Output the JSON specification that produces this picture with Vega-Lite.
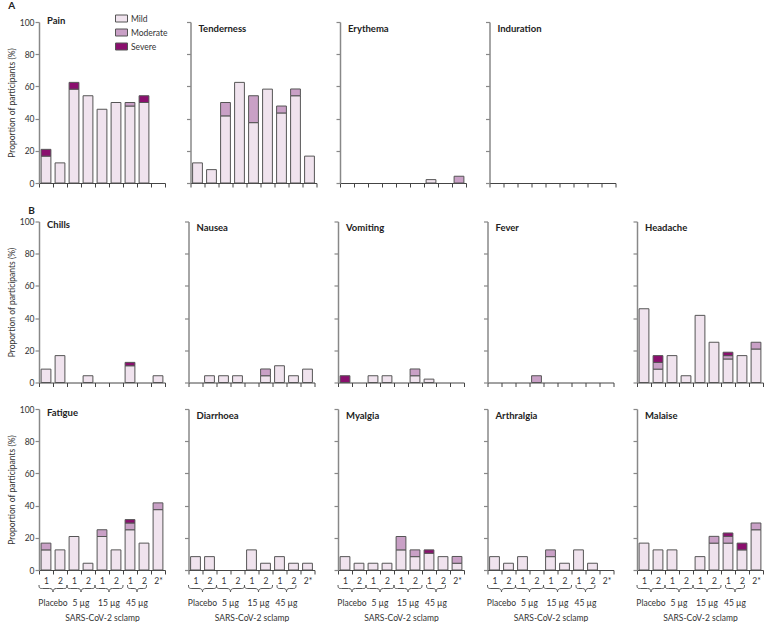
{
"$schema":"https://vega.github.io/schema/vega-lite/v6.json",
"padding":{"left":7,"top":1,"right":0,"bottom":0},
"config":{"font":"Lato","view":{"stroke":null},
 "axis":{"labelFontSize":8.5,"titleFontSize":8.5,"labelColor":"#333","titleColor":"#333","titleFontWeight":"normal","grid":false},
 "axisY":{"domainColor":"#888","domainWidth":1.5,"tickColor":"#888","tickWidth":1.2,"tickSize":4,"tickCount":5,"labelPadding":1,"titlePadding":3},
 "axisX":{"domainColor":"#444","domainWidth":1,"tickColor":"#444","tickSize":4,"tickBand":"extent","labelAngle":0,"labelPadding":2},
 "bar":{"stroke":"#555","strokeWidth":1},
 "title":{"anchor":"start","fontSize":9.5,"fontWeight":"bold","offset":-12,"dx":8,"color":"#222","frame":"group"},
 "concat":{"spacing":17.5}
},
"data":{"values":[
{"s":"Pain","g":"Placebo 1","l":"Mild","v":16.7},{"s":"Pain","g":"Placebo 1","l":"Severe","v":4.2},{"s":"Pain","g":"Placebo 2","l":"Mild","v":12.5},{"s":"Pain","g":"5 µg 1","l":"Mild","v":58.3},{"s":"Pain","g":"5 µg 1","l":"Severe","v":4.2},{"s":"Pain","g":"5 µg 2","l":"Mild","v":54.2},{"s":"Pain","g":"15 µg 1","l":"Mild","v":45.8},{"s":"Pain","g":"15 µg 2","l":"Mild","v":50},{"s":"Pain","g":"45 µg 1","l":"Mild","v":47.8},{"s":"Pain","g":"45 µg 1","l":"Moderate","v":2.2},{"s":"Pain","g":"45 µg 2","l":"Mild","v":50},{"s":"Pain","g":"45 µg 2","l":"Severe","v":4.2},
{"s":"Tenderness","g":"Placebo 1","l":"Mild","v":12.5},{"s":"Tenderness","g":"Placebo 2","l":"Mild","v":8.3},{"s":"Tenderness","g":"5 µg 1","l":"Mild","v":41.7},{"s":"Tenderness","g":"5 µg 1","l":"Moderate","v":8.3},{"s":"Tenderness","g":"5 µg 2","l":"Mild","v":62.5},{"s":"Tenderness","g":"15 µg 1","l":"Mild","v":37.5},{"s":"Tenderness","g":"15 µg 1","l":"Moderate","v":16.7},{"s":"Tenderness","g":"15 µg 2","l":"Mild","v":58.3},{"s":"Tenderness","g":"45 µg 1","l":"Mild","v":43.5},{"s":"Tenderness","g":"45 µg 1","l":"Moderate","v":4.3},{"s":"Tenderness","g":"45 µg 2","l":"Mild","v":54.2},{"s":"Tenderness","g":"45 µg 2","l":"Moderate","v":4.2},{"s":"Tenderness","g":"45 µg 2*","l":"Mild","v":16.7},
{"s":"Erythema","g":"45 µg 1","l":"Mild","v":2.1},{"s":"Erythema","g":"45 µg 2*","l":"Moderate","v":4.2},
{"s":"Chills","g":"Placebo 1","l":"Mild","v":8.3},{"s":"Chills","g":"Placebo 2","l":"Mild","v":16.7},{"s":"Chills","g":"5 µg 2","l":"Mild","v":4.2},{"s":"Chills","g":"45 µg 1","l":"Mild","v":10.4},{"s":"Chills","g":"45 µg 1","l":"Severe","v":2.1},{"s":"Chills","g":"45 µg 2*","l":"Mild","v":4.2},
{"s":"Nausea","g":"Placebo 2","l":"Mild","v":4.2},{"s":"Nausea","g":"5 µg 1","l":"Mild","v":4.2},{"s":"Nausea","g":"5 µg 2","l":"Mild","v":4.2},{"s":"Nausea","g":"15 µg 2","l":"Mild","v":4.2},{"s":"Nausea","g":"15 µg 2","l":"Moderate","v":4.2},{"s":"Nausea","g":"45 µg 1","l":"Mild","v":10.4},{"s":"Nausea","g":"45 µg 2","l":"Mild","v":4.2},{"s":"Nausea","g":"45 µg 2*","l":"Mild","v":8.3},
{"s":"Vomiting","g":"Placebo 1","l":"Severe","v":4.2},{"s":"Vomiting","g":"5 µg 1","l":"Mild","v":4.2},{"s":"Vomiting","g":"5 µg 2","l":"Mild","v":4.2},{"s":"Vomiting","g":"15 µg 2","l":"Mild","v":4.2},{"s":"Vomiting","g":"15 µg 2","l":"Moderate","v":4.2},{"s":"Vomiting","g":"45 µg 1","l":"Mild","v":2.1},
{"s":"Fever","g":"5 µg 2","l":"Moderate","v":4.2},
{"s":"Headache","g":"Placebo 1","l":"Mild","v":45.8},{"s":"Headache","g":"Placebo 2","l":"Mild","v":8.3},{"s":"Headache","g":"Placebo 2","l":"Moderate","v":4.2},{"s":"Headache","g":"Placebo 2","l":"Severe","v":4.2},{"s":"Headache","g":"5 µg 1","l":"Mild","v":16.7},{"s":"Headache","g":"5 µg 2","l":"Mild","v":4.2},{"s":"Headache","g":"15 µg 1","l":"Mild","v":41.7},{"s":"Headache","g":"15 µg 2","l":"Mild","v":25},{"s":"Headache","g":"45 µg 1","l":"Mild","v":14.6},{"s":"Headache","g":"45 µg 1","l":"Moderate","v":2.1},{"s":"Headache","g":"45 µg 1","l":"Severe","v":2.1},{"s":"Headache","g":"45 µg 2","l":"Mild","v":16.7},{"s":"Headache","g":"45 µg 2*","l":"Mild","v":20.8},{"s":"Headache","g":"45 µg 2*","l":"Moderate","v":4.2},
{"s":"Fatigue","g":"Placebo 1","l":"Mild","v":12.5},{"s":"Fatigue","g":"Placebo 1","l":"Moderate","v":4.2},{"s":"Fatigue","g":"Placebo 2","l":"Mild","v":12.5},{"s":"Fatigue","g":"5 µg 1","l":"Mild","v":20.8},{"s":"Fatigue","g":"5 µg 2","l":"Mild","v":4.2},{"s":"Fatigue","g":"15 µg 1","l":"Mild","v":20.8},{"s":"Fatigue","g":"15 µg 1","l":"Moderate","v":4.2},{"s":"Fatigue","g":"15 µg 2","l":"Mild","v":12.5},{"s":"Fatigue","g":"45 µg 1","l":"Mild","v":25},{"s":"Fatigue","g":"45 µg 1","l":"Moderate","v":4.2},{"s":"Fatigue","g":"45 µg 1","l":"Severe","v":2.1},{"s":"Fatigue","g":"45 µg 2","l":"Mild","v":16.7},{"s":"Fatigue","g":"45 µg 2*","l":"Mild","v":37.5},{"s":"Fatigue","g":"45 µg 2*","l":"Moderate","v":4.2},
{"s":"Diarrhoea","g":"Placebo 1","l":"Mild","v":8.3},{"s":"Diarrhoea","g":"Placebo 2","l":"Mild","v":8.3},{"s":"Diarrhoea","g":"15 µg 1","l":"Mild","v":12.5},{"s":"Diarrhoea","g":"15 µg 2","l":"Mild","v":4.2},{"s":"Diarrhoea","g":"45 µg 1","l":"Mild","v":8.3},{"s":"Diarrhoea","g":"45 µg 2","l":"Mild","v":4.2},{"s":"Diarrhoea","g":"45 µg 2*","l":"Mild","v":4.2},
{"s":"Myalgia","g":"Placebo 1","l":"Mild","v":8.3},{"s":"Myalgia","g":"Placebo 2","l":"Mild","v":4.2},{"s":"Myalgia","g":"5 µg 1","l":"Mild","v":4.2},{"s":"Myalgia","g":"5 µg 2","l":"Mild","v":4.2},{"s":"Myalgia","g":"15 µg 1","l":"Mild","v":12.5},{"s":"Myalgia","g":"15 µg 1","l":"Moderate","v":8.3},{"s":"Myalgia","g":"15 µg 2","l":"Mild","v":8.3},{"s":"Myalgia","g":"15 µg 2","l":"Moderate","v":4.2},{"s":"Myalgia","g":"45 µg 1","l":"Mild","v":10.4},{"s":"Myalgia","g":"45 µg 1","l":"Severe","v":2.1},{"s":"Myalgia","g":"45 µg 2","l":"Mild","v":8.3},{"s":"Myalgia","g":"45 µg 2*","l":"Mild","v":4.2},{"s":"Myalgia","g":"45 µg 2*","l":"Moderate","v":4.2},
{"s":"Arthralgia","g":"Placebo 1","l":"Mild","v":8.3},{"s":"Arthralgia","g":"Placebo 2","l":"Mild","v":4.2},{"s":"Arthralgia","g":"5 µg 1","l":"Mild","v":8.3},{"s":"Arthralgia","g":"15 µg 1","l":"Mild","v":8.3},{"s":"Arthralgia","g":"15 µg 1","l":"Moderate","v":4.2},{"s":"Arthralgia","g":"15 µg 2","l":"Mild","v":4.2},{"s":"Arthralgia","g":"45 µg 1","l":"Mild","v":12.5},{"s":"Arthralgia","g":"45 µg 2","l":"Mild","v":4.2},
{"s":"Malaise","g":"Placebo 1","l":"Mild","v":16.7},{"s":"Malaise","g":"Placebo 2","l":"Mild","v":12.5},{"s":"Malaise","g":"5 µg 1","l":"Mild","v":12.5},{"s":"Malaise","g":"15 µg 1","l":"Mild","v":8.3},{"s":"Malaise","g":"15 µg 2","l":"Mild","v":16.7},{"s":"Malaise","g":"15 µg 2","l":"Moderate","v":4.2},{"s":"Malaise","g":"45 µg 1","l":"Mild","v":16.7},{"s":"Malaise","g":"45 µg 1","l":"Moderate","v":4.2},{"s":"Malaise","g":"45 µg 1","l":"Severe","v":2.1},{"s":"Malaise","g":"45 µg 2","l":"Mild","v":12.5},{"s":"Malaise","g":"45 µg 2","l":"Severe","v":4.2},{"s":"Malaise","g":"45 µg 2*","l":"Mild","v":25},{"s":"Malaise","g":"45 µg 2*","l":"Moderate","v":4.2}
]},
"resolve":{"legend":{"color":"independent"}},
"vconcat":[
{"title":{"text":"A","fontSize":10,"fontWeight":"bold","frame":"bounds","offset":2,"dx":1},
 "resolve":{"legend":{"color":"independent"}},
 "hconcat":[
 {"width":126,"height":161,"title":{"text":"Pain"},"transform":[{"filter":"datum.s==='Pain'"}],"mark":{"type":"bar","width":{"band":0.7}},
  "encoding":{"x":{"field":"g","type":"nominal","scale":{"domain":["Placebo 1","Placebo 2","5 µg 1","5 µg 2","15 µg 1","15 µg 2","45 µg 1","45 µg 2","45 µg 2*"],"paddingInner":0,"paddingOuter":0},"axis":{"labels":false,"title":null}},
  "y":{"field":"v","type":"quantitative","scale":{"domain":[0,100]},"axis":{"title":"Proportion of participants (%)"}},
  "order":{"field":"l","sort":"ascending"},
  "color":{"field":"l","type":"nominal","scale":{"domain":["Mild","Moderate","Severe"],"range":["#f0e3ee","#c9a0c6","#8a0f6e"]},
   "legend":{"orient":"none","legendX":77,"legendY":-9,"title":null,"padding":0,"symbolType":"M-1.2,-0.7H1.2V0.7H-1.2Z","symbolSize":100,"symbolStrokeColor":"#555","symbolStrokeWidth":1,"labelFontSize":8.5,"labelColor":"#333","rowPadding":3,"labelOffset":4}}}},
 {"width":126,"height":161,"title":{"text":"Tenderness"},"transform":[{"filter":"datum.s==='Tenderness'"}],"mark":{"type":"bar","width":{"band":0.7}},
  "encoding":{"x":{"field":"g","type":"nominal","scale":{"domain":["Placebo 1","Placebo 2","5 µg 1","5 µg 2","15 µg 1","15 µg 2","45 µg 1","45 µg 2","45 µg 2*"],"paddingInner":0,"paddingOuter":0},"axis":{"labels":false,"title":null}},
  "y":{"field":"v","type":"quantitative","scale":{"domain":[0,100]},"axis":{"labels":false,"title":null}},
  "order":{"field":"l","sort":"ascending"},
  "color":{"field":"l","type":"nominal","scale":{"domain":["Mild","Moderate","Severe"],"range":["#f0e3ee","#c9a0c6","#8a0f6e"]},"legend":null}}},
 {"width":126,"height":161,"title":{"text":"Erythema"},"transform":[{"filter":"datum.s==='Erythema'"}],"mark":{"type":"bar","width":{"band":0.7}},
  "encoding":{"x":{"field":"g","type":"nominal","scale":{"domain":["Placebo 1","Placebo 2","5 µg 1","5 µg 2","15 µg 1","15 µg 2","45 µg 1","45 µg 2","45 µg 2*"],"paddingInner":0,"paddingOuter":0},"axis":{"labels":false,"title":null}},
  "y":{"field":"v","type":"quantitative","scale":{"domain":[0,100]},"axis":{"labels":false,"title":null}},
  "order":{"field":"l","sort":"ascending"},
  "color":{"field":"l","type":"nominal","scale":{"domain":["Mild","Moderate","Severe"],"range":["#f0e3ee","#c9a0c6","#8a0f6e"]},"legend":null}}},
 {"width":126,"height":161,"title":{"text":"Induration"},"transform":[{"filter":"datum.s==='Induration'"}],"mark":{"type":"bar","width":{"band":0.7}},
  "encoding":{"x":{"field":"g","type":"nominal","scale":{"domain":["Placebo 1","Placebo 2","5 µg 1","5 µg 2","15 µg 1","15 µg 2","45 µg 1","45 µg 2","45 µg 2*"],"paddingInner":0,"paddingOuter":0},"axis":{"labels":false,"title":null}},
  "y":{"field":"v","type":"quantitative","scale":{"domain":[0,100]},"axis":{"labels":false,"title":null}},
  "order":{"field":"l","sort":"ascending"},
  "color":{"field":"l","type":"nominal","scale":{"domain":["Mild","Moderate","Severe"],"range":["#f0e3ee","#c9a0c6","#8a0f6e"]},"legend":null}}}
 ]},
{"title":{"text":"B","fontSize":10,"fontWeight":"bold","frame":"bounds","offset":2,"dx":21},
 "resolve":{"legend":{"color":"independent"}},
 "hconcat":[
 {"width":126,"height":161,"title":{"text":"Chills"},"transform":[{"filter":"datum.s==='Chills'"}],"mark":{"type":"bar","width":{"band":0.7}},
  "encoding":{"x":{"field":"g","type":"nominal","scale":{"domain":["Placebo 1","Placebo 2","5 µg 1","5 µg 2","15 µg 1","15 µg 2","45 µg 1","45 µg 2","45 µg 2*"],"paddingInner":0,"paddingOuter":0},"axis":{"labels":false,"title":null}},
  "y":{"field":"v","type":"quantitative","scale":{"domain":[0,100]},"axis":{"title":"Proportion of participants (%)"}},
  "order":{"field":"l","sort":"ascending"},
  "color":{"field":"l","type":"nominal","scale":{"domain":["Mild","Moderate","Severe"],"range":["#f0e3ee","#c9a0c6","#8a0f6e"]},"legend":null}}},
 {"width":126,"height":161,"title":{"text":"Nausea"},"transform":[{"filter":"datum.s==='Nausea'"}],"mark":{"type":"bar","width":{"band":0.7}},
  "encoding":{"x":{"field":"g","type":"nominal","scale":{"domain":["Placebo 1","Placebo 2","5 µg 1","5 µg 2","15 µg 1","15 µg 2","45 µg 1","45 µg 2","45 µg 2*"],"paddingInner":0,"paddingOuter":0},"axis":{"labels":false,"title":null}},
  "y":{"field":"v","type":"quantitative","scale":{"domain":[0,100]},"axis":{"labels":false,"title":null}},
  "order":{"field":"l","sort":"ascending"},
  "color":{"field":"l","type":"nominal","scale":{"domain":["Mild","Moderate","Severe"],"range":["#f0e3ee","#c9a0c6","#8a0f6e"]},"legend":null}}},
 {"width":126,"height":161,"title":{"text":"Vomiting"},"transform":[{"filter":"datum.s==='Vomiting'"}],"mark":{"type":"bar","width":{"band":0.7}},
  "encoding":{"x":{"field":"g","type":"nominal","scale":{"domain":["Placebo 1","Placebo 2","5 µg 1","5 µg 2","15 µg 1","15 µg 2","45 µg 1","45 µg 2","45 µg 2*"],"paddingInner":0,"paddingOuter":0},"axis":{"labels":false,"title":null}},
  "y":{"field":"v","type":"quantitative","scale":{"domain":[0,100]},"axis":{"labels":false,"title":null}},
  "order":{"field":"l","sort":"ascending"},
  "color":{"field":"l","type":"nominal","scale":{"domain":["Mild","Moderate","Severe"],"range":["#f0e3ee","#c9a0c6","#8a0f6e"]},"legend":null}}},
 {"width":126,"height":161,"title":{"text":"Fever"},"transform":[{"filter":"datum.s==='Fever'"}],"mark":{"type":"bar","width":{"band":0.7}},
  "encoding":{"x":{"field":"g","type":"nominal","scale":{"domain":["Placebo 1","Placebo 2","5 µg 1","5 µg 2","15 µg 1","15 µg 2","45 µg 1","45 µg 2","45 µg 2*"],"paddingInner":0,"paddingOuter":0},"axis":{"labels":false,"title":null}},
  "y":{"field":"v","type":"quantitative","scale":{"domain":[0,100]},"axis":{"labels":false,"title":null}},
  "order":{"field":"l","sort":"ascending"},
  "color":{"field":"l","type":"nominal","scale":{"domain":["Mild","Moderate","Severe"],"range":["#f0e3ee","#c9a0c6","#8a0f6e"]},"legend":null}}},
 {"width":126,"height":161,"title":{"text":"Headache"},"transform":[{"filter":"datum.s==='Headache'"}],"mark":{"type":"bar","width":{"band":0.7}},
  "encoding":{"x":{"field":"g","type":"nominal","scale":{"domain":["Placebo 1","Placebo 2","5 µg 1","5 µg 2","15 µg 1","15 µg 2","45 µg 1","45 µg 2","45 µg 2*"],"paddingInner":0,"paddingOuter":0},"axis":{"labels":false,"title":null}},
  "y":{"field":"v","type":"quantitative","scale":{"domain":[0,100]},"axis":{"labels":false,"title":null}},
  "order":{"field":"l","sort":"ascending"},
  "color":{"field":"l","type":"nominal","scale":{"domain":["Mild","Moderate","Severe"],"range":["#f0e3ee","#c9a0c6","#8a0f6e"]},"legend":null}}}
 ]},
{"resolve":{"legend":{"color":"independent"}},
 "hconcat":[
 {"width":126,"height":161,"title":{"text":"Fatigue"},"layer":[
  {"transform":[{"filter":"datum.s==='Fatigue'"}],"mark":{"type":"bar","width":{"band":0.7}},
   "encoding":{"x":{"field":"g","type":"nominal","scale":{"domain":["Placebo 1","Placebo 2","5 µg 1","5 µg 2","15 µg 1","15 µg 2","45 µg 1","45 µg 2","45 µg 2*"],"paddingInner":0,"paddingOuter":0},"axis":{"labelExpr":"peek(split(datum.label,' '))","title":"SARS-CoV-2 sclamp","titlePadding":29}},
   "y":{"field":"v","type":"quantitative","scale":{"domain":[0,100]},"axis":{"title":"Proportion of participants (%)"}},
   "order":{"field":"l","sort":"ascending"},
   "color":{"field":"l","type":"nominal","scale":{"domain":["Mild","Moderate","Severe"],"range":["#f0e3ee","#c9a0c6","#8a0f6e"]},"legend":null}}},
  {"data":{"values":[{}]},"mark":{"type":"point","shape":"M-1,-0.25C-1,0 -0.92,0 -0.75,0L-0.25,0C-0.08,0 0,0.08 0,0.25C0,0.08 0.08,0 0.25,0L0.75,0C0.92,0 1,0 1,-0.25","filled":false,"stroke":"#555","strokeWidth":1,"opacity":1,"size":784},"encoding":{"x":{"datum":"Placebo 2","bandPosition":0},"y":{"datum":-11.5}}},
  {"data":{"values":[{}]},"mark":{"type":"point","shape":"M-1,-0.25C-1,0 -0.92,0 -0.75,0L-0.25,0C-0.08,0 0,0.08 0,0.25C0,0.08 0.08,0 0.25,0L0.75,0C0.92,0 1,0 1,-0.25","filled":false,"stroke":"#555","strokeWidth":1,"opacity":1,"size":784},"encoding":{"x":{"datum":"5 µg 2","bandPosition":0},"y":{"datum":-11.5}}},
  {"data":{"values":[{}]},"mark":{"type":"point","shape":"M-1,-0.25C-1,0 -0.92,0 -0.75,0L-0.25,0C-0.08,0 0,0.08 0,0.25C0,0.08 0.08,0 0.25,0L0.75,0C0.92,0 1,0 1,-0.25","filled":false,"stroke":"#555","strokeWidth":1,"opacity":1,"size":784},"encoding":{"x":{"datum":"15 µg 2","bandPosition":0},"y":{"datum":-11.5}}},
  {"data":{"values":[{}]},"mark":{"type":"point","shape":"M-1,-0.36C-1,0 -0.9,0 -0.7,0L-0.3,0C-0.1,0 0,0.12 0,0.36C0,0.12 0.1,0 0.3,0L0.7,0C0.9,0 1,0 1,-0.36","filled":false,"stroke":"#555","strokeWidth":1,"opacity":1,"size":361},"encoding":{"x":{"datum":"45 µg 2","bandPosition":0},"y":{"datum":-11.5}}},
  {"data":{"values":[{}]},"mark":{"type":"text","text":"Placebo","dy":33,"fontSize":8.5,"color":"#333"},"encoding":{"x":{"datum":"Placebo 2","bandPosition":0},"y":{"datum":0}}},
  {"data":{"values":[{}]},"mark":{"type":"text","text":"5 µg","dy":33,"fontSize":8.5,"color":"#333"},"encoding":{"x":{"datum":"5 µg 2","bandPosition":0},"y":{"datum":0}}},
  {"data":{"values":[{}]},"mark":{"type":"text","text":"15 µg","dy":33,"fontSize":8.5,"color":"#333"},"encoding":{"x":{"datum":"15 µg 2","bandPosition":0},"y":{"datum":0}}},
  {"data":{"values":[{}]},"mark":{"type":"text","text":"45 µg","dy":33,"fontSize":8.5,"color":"#333"},"encoding":{"x":{"datum":"45 µg 2","bandPosition":0},"y":{"datum":0}}}
 ]},
 {"width":126,"height":161,"title":{"text":"Diarrhoea"},"layer":[
  {"transform":[{"filter":"datum.s==='Diarrhoea'"}],"mark":{"type":"bar","width":{"band":0.7}},
   "encoding":{"x":{"field":"g","type":"nominal","scale":{"domain":["Placebo 1","Placebo 2","5 µg 1","5 µg 2","15 µg 1","15 µg 2","45 µg 1","45 µg 2","45 µg 2*"],"paddingInner":0,"paddingOuter":0},"axis":{"labelExpr":"peek(split(datum.label,' '))","title":"SARS-CoV-2 sclamp","titlePadding":29}},
   "y":{"field":"v","type":"quantitative","scale":{"domain":[0,100]},"axis":{"labels":false,"title":null}},
   "order":{"field":"l","sort":"ascending"},
   "color":{"field":"l","type":"nominal","scale":{"domain":["Mild","Moderate","Severe"],"range":["#f0e3ee","#c9a0c6","#8a0f6e"]},"legend":null}}},
  {"data":{"values":[{}]},"mark":{"type":"point","shape":"M-1,-0.25C-1,0 -0.92,0 -0.75,0L-0.25,0C-0.08,0 0,0.08 0,0.25C0,0.08 0.08,0 0.25,0L0.75,0C0.92,0 1,0 1,-0.25","filled":false,"stroke":"#555","strokeWidth":1,"opacity":1,"size":784},"encoding":{"x":{"datum":"Placebo 2","bandPosition":0},"y":{"datum":-11.5}}},
  {"data":{"values":[{}]},"mark":{"type":"point","shape":"M-1,-0.25C-1,0 -0.92,0 -0.75,0L-0.25,0C-0.08,0 0,0.08 0,0.25C0,0.08 0.08,0 0.25,0L0.75,0C0.92,0 1,0 1,-0.25","filled":false,"stroke":"#555","strokeWidth":1,"opacity":1,"size":784},"encoding":{"x":{"datum":"5 µg 2","bandPosition":0},"y":{"datum":-11.5}}},
  {"data":{"values":[{}]},"mark":{"type":"point","shape":"M-1,-0.25C-1,0 -0.92,0 -0.75,0L-0.25,0C-0.08,0 0,0.08 0,0.25C0,0.08 0.08,0 0.25,0L0.75,0C0.92,0 1,0 1,-0.25","filled":false,"stroke":"#555","strokeWidth":1,"opacity":1,"size":784},"encoding":{"x":{"datum":"15 µg 2","bandPosition":0},"y":{"datum":-11.5}}},
  {"data":{"values":[{}]},"mark":{"type":"point","shape":"M-1,-0.36C-1,0 -0.9,0 -0.7,0L-0.3,0C-0.1,0 0,0.12 0,0.36C0,0.12 0.1,0 0.3,0L0.7,0C0.9,0 1,0 1,-0.36","filled":false,"stroke":"#555","strokeWidth":1,"opacity":1,"size":361},"encoding":{"x":{"datum":"45 µg 2","bandPosition":0},"y":{"datum":-11.5}}},
  {"data":{"values":[{}]},"mark":{"type":"text","text":"Placebo","dy":33,"fontSize":8.5,"color":"#333"},"encoding":{"x":{"datum":"Placebo 2","bandPosition":0},"y":{"datum":0}}},
  {"data":{"values":[{}]},"mark":{"type":"text","text":"5 µg","dy":33,"fontSize":8.5,"color":"#333"},"encoding":{"x":{"datum":"5 µg 2","bandPosition":0},"y":{"datum":0}}},
  {"data":{"values":[{}]},"mark":{"type":"text","text":"15 µg","dy":33,"fontSize":8.5,"color":"#333"},"encoding":{"x":{"datum":"15 µg 2","bandPosition":0},"y":{"datum":0}}},
  {"data":{"values":[{}]},"mark":{"type":"text","text":"45 µg","dy":33,"fontSize":8.5,"color":"#333"},"encoding":{"x":{"datum":"45 µg 2","bandPosition":0},"y":{"datum":0}}}
 ]},
 {"width":126,"height":161,"title":{"text":"Myalgia"},"layer":[
  {"transform":[{"filter":"datum.s==='Myalgia'"}],"mark":{"type":"bar","width":{"band":0.7}},
   "encoding":{"x":{"field":"g","type":"nominal","scale":{"domain":["Placebo 1","Placebo 2","5 µg 1","5 µg 2","15 µg 1","15 µg 2","45 µg 1","45 µg 2","45 µg 2*"],"paddingInner":0,"paddingOuter":0},"axis":{"labelExpr":"peek(split(datum.label,' '))","title":"SARS-CoV-2 sclamp","titlePadding":29}},
   "y":{"field":"v","type":"quantitative","scale":{"domain":[0,100]},"axis":{"labels":false,"title":null}},
   "order":{"field":"l","sort":"ascending"},
   "color":{"field":"l","type":"nominal","scale":{"domain":["Mild","Moderate","Severe"],"range":["#f0e3ee","#c9a0c6","#8a0f6e"]},"legend":null}}},
  {"data":{"values":[{}]},"mark":{"type":"point","shape":"M-1,-0.25C-1,0 -0.92,0 -0.75,0L-0.25,0C-0.08,0 0,0.08 0,0.25C0,0.08 0.08,0 0.25,0L0.75,0C0.92,0 1,0 1,-0.25","filled":false,"stroke":"#555","strokeWidth":1,"opacity":1,"size":784},"encoding":{"x":{"datum":"Placebo 2","bandPosition":0},"y":{"datum":-11.5}}},
  {"data":{"values":[{}]},"mark":{"type":"point","shape":"M-1,-0.25C-1,0 -0.92,0 -0.75,0L-0.25,0C-0.08,0 0,0.08 0,0.25C0,0.08 0.08,0 0.25,0L0.75,0C0.92,0 1,0 1,-0.25","filled":false,"stroke":"#555","strokeWidth":1,"opacity":1,"size":784},"encoding":{"x":{"datum":"5 µg 2","bandPosition":0},"y":{"datum":-11.5}}},
  {"data":{"values":[{}]},"mark":{"type":"point","shape":"M-1,-0.25C-1,0 -0.92,0 -0.75,0L-0.25,0C-0.08,0 0,0.08 0,0.25C0,0.08 0.08,0 0.25,0L0.75,0C0.92,0 1,0 1,-0.25","filled":false,"stroke":"#555","strokeWidth":1,"opacity":1,"size":784},"encoding":{"x":{"datum":"15 µg 2","bandPosition":0},"y":{"datum":-11.5}}},
  {"data":{"values":[{}]},"mark":{"type":"point","shape":"M-1,-0.36C-1,0 -0.9,0 -0.7,0L-0.3,0C-0.1,0 0,0.12 0,0.36C0,0.12 0.1,0 0.3,0L0.7,0C0.9,0 1,0 1,-0.36","filled":false,"stroke":"#555","strokeWidth":1,"opacity":1,"size":361},"encoding":{"x":{"datum":"45 µg 2","bandPosition":0},"y":{"datum":-11.5}}},
  {"data":{"values":[{}]},"mark":{"type":"text","text":"Placebo","dy":33,"fontSize":8.5,"color":"#333"},"encoding":{"x":{"datum":"Placebo 2","bandPosition":0},"y":{"datum":0}}},
  {"data":{"values":[{}]},"mark":{"type":"text","text":"5 µg","dy":33,"fontSize":8.5,"color":"#333"},"encoding":{"x":{"datum":"5 µg 2","bandPosition":0},"y":{"datum":0}}},
  {"data":{"values":[{}]},"mark":{"type":"text","text":"15 µg","dy":33,"fontSize":8.5,"color":"#333"},"encoding":{"x":{"datum":"15 µg 2","bandPosition":0},"y":{"datum":0}}},
  {"data":{"values":[{}]},"mark":{"type":"text","text":"45 µg","dy":33,"fontSize":8.5,"color":"#333"},"encoding":{"x":{"datum":"45 µg 2","bandPosition":0},"y":{"datum":0}}}
 ]},
 {"width":126,"height":161,"title":{"text":"Arthralgia"},"layer":[
  {"transform":[{"filter":"datum.s==='Arthralgia'"}],"mark":{"type":"bar","width":{"band":0.7}},
   "encoding":{"x":{"field":"g","type":"nominal","scale":{"domain":["Placebo 1","Placebo 2","5 µg 1","5 µg 2","15 µg 1","15 µg 2","45 µg 1","45 µg 2","45 µg 2*"],"paddingInner":0,"paddingOuter":0},"axis":{"labelExpr":"peek(split(datum.label,' '))","title":"SARS-CoV-2 sclamp","titlePadding":29}},
   "y":{"field":"v","type":"quantitative","scale":{"domain":[0,100]},"axis":{"labels":false,"title":null}},
   "order":{"field":"l","sort":"ascending"},
   "color":{"field":"l","type":"nominal","scale":{"domain":["Mild","Moderate","Severe"],"range":["#f0e3ee","#c9a0c6","#8a0f6e"]},"legend":null}}},
  {"data":{"values":[{}]},"mark":{"type":"point","shape":"M-1,-0.25C-1,0 -0.92,0 -0.75,0L-0.25,0C-0.08,0 0,0.08 0,0.25C0,0.08 0.08,0 0.25,0L0.75,0C0.92,0 1,0 1,-0.25","filled":false,"stroke":"#555","strokeWidth":1,"opacity":1,"size":784},"encoding":{"x":{"datum":"Placebo 2","bandPosition":0},"y":{"datum":-11.5}}},
  {"data":{"values":[{}]},"mark":{"type":"point","shape":"M-1,-0.25C-1,0 -0.92,0 -0.75,0L-0.25,0C-0.08,0 0,0.08 0,0.25C0,0.08 0.08,0 0.25,0L0.75,0C0.92,0 1,0 1,-0.25","filled":false,"stroke":"#555","strokeWidth":1,"opacity":1,"size":784},"encoding":{"x":{"datum":"5 µg 2","bandPosition":0},"y":{"datum":-11.5}}},
  {"data":{"values":[{}]},"mark":{"type":"point","shape":"M-1,-0.25C-1,0 -0.92,0 -0.75,0L-0.25,0C-0.08,0 0,0.08 0,0.25C0,0.08 0.08,0 0.25,0L0.75,0C0.92,0 1,0 1,-0.25","filled":false,"stroke":"#555","strokeWidth":1,"opacity":1,"size":784},"encoding":{"x":{"datum":"15 µg 2","bandPosition":0},"y":{"datum":-11.5}}},
  {"data":{"values":[{}]},"mark":{"type":"point","shape":"M-1,-0.36C-1,0 -0.9,0 -0.7,0L-0.3,0C-0.1,0 0,0.12 0,0.36C0,0.12 0.1,0 0.3,0L0.7,0C0.9,0 1,0 1,-0.36","filled":false,"stroke":"#555","strokeWidth":1,"opacity":1,"size":361},"encoding":{"x":{"datum":"45 µg 2","bandPosition":0},"y":{"datum":-11.5}}},
  {"data":{"values":[{}]},"mark":{"type":"text","text":"Placebo","dy":33,"fontSize":8.5,"color":"#333"},"encoding":{"x":{"datum":"Placebo 2","bandPosition":0},"y":{"datum":0}}},
  {"data":{"values":[{}]},"mark":{"type":"text","text":"5 µg","dy":33,"fontSize":8.5,"color":"#333"},"encoding":{"x":{"datum":"5 µg 2","bandPosition":0},"y":{"datum":0}}},
  {"data":{"values":[{}]},"mark":{"type":"text","text":"15 µg","dy":33,"fontSize":8.5,"color":"#333"},"encoding":{"x":{"datum":"15 µg 2","bandPosition":0},"y":{"datum":0}}},
  {"data":{"values":[{}]},"mark":{"type":"text","text":"45 µg","dy":33,"fontSize":8.5,"color":"#333"},"encoding":{"x":{"datum":"45 µg 2","bandPosition":0},"y":{"datum":0}}}
 ]},
 {"width":126,"height":161,"title":{"text":"Malaise"},"layer":[
  {"transform":[{"filter":"datum.s==='Malaise'"}],"mark":{"type":"bar","width":{"band":0.7}},
   "encoding":{"x":{"field":"g","type":"nominal","scale":{"domain":["Placebo 1","Placebo 2","5 µg 1","5 µg 2","15 µg 1","15 µg 2","45 µg 1","45 µg 2","45 µg 2*"],"paddingInner":0,"paddingOuter":0},"axis":{"labelExpr":"peek(split(datum.label,' '))","title":"SARS-CoV-2 sclamp","titlePadding":29}},
   "y":{"field":"v","type":"quantitative","scale":{"domain":[0,100]},"axis":{"labels":false,"title":null}},
   "order":{"field":"l","sort":"ascending"},
   "color":{"field":"l","type":"nominal","scale":{"domain":["Mild","Moderate","Severe"],"range":["#f0e3ee","#c9a0c6","#8a0f6e"]},"legend":null}}},
  {"data":{"values":[{}]},"mark":{"type":"point","shape":"M-1,-0.25C-1,0 -0.92,0 -0.75,0L-0.25,0C-0.08,0 0,0.08 0,0.25C0,0.08 0.08,0 0.25,0L0.75,0C0.92,0 1,0 1,-0.25","filled":false,"stroke":"#555","strokeWidth":1,"opacity":1,"size":784},"encoding":{"x":{"datum":"Placebo 2","bandPosition":0},"y":{"datum":-11.5}}},
  {"data":{"values":[{}]},"mark":{"type":"point","shape":"M-1,-0.25C-1,0 -0.92,0 -0.75,0L-0.25,0C-0.08,0 0,0.08 0,0.25C0,0.08 0.08,0 0.25,0L0.75,0C0.92,0 1,0 1,-0.25","filled":false,"stroke":"#555","strokeWidth":1,"opacity":1,"size":784},"encoding":{"x":{"datum":"5 µg 2","bandPosition":0},"y":{"datum":-11.5}}},
  {"data":{"values":[{}]},"mark":{"type":"point","shape":"M-1,-0.25C-1,0 -0.92,0 -0.75,0L-0.25,0C-0.08,0 0,0.08 0,0.25C0,0.08 0.08,0 0.25,0L0.75,0C0.92,0 1,0 1,-0.25","filled":false,"stroke":"#555","strokeWidth":1,"opacity":1,"size":784},"encoding":{"x":{"datum":"15 µg 2","bandPosition":0},"y":{"datum":-11.5}}},
  {"data":{"values":[{}]},"mark":{"type":"point","shape":"M-1,-0.36C-1,0 -0.9,0 -0.7,0L-0.3,0C-0.1,0 0,0.12 0,0.36C0,0.12 0.1,0 0.3,0L0.7,0C0.9,0 1,0 1,-0.36","filled":false,"stroke":"#555","strokeWidth":1,"opacity":1,"size":361},"encoding":{"x":{"datum":"45 µg 2","bandPosition":0},"y":{"datum":-11.5}}},
  {"data":{"values":[{}]},"mark":{"type":"text","text":"Placebo","dy":33,"fontSize":8.5,"color":"#333"},"encoding":{"x":{"datum":"Placebo 2","bandPosition":0},"y":{"datum":0}}},
  {"data":{"values":[{}]},"mark":{"type":"text","text":"5 µg","dy":33,"fontSize":8.5,"color":"#333"},"encoding":{"x":{"datum":"5 µg 2","bandPosition":0},"y":{"datum":0}}},
  {"data":{"values":[{}]},"mark":{"type":"text","text":"15 µg","dy":33,"fontSize":8.5,"color":"#333"},"encoding":{"x":{"datum":"15 µg 2","bandPosition":0},"y":{"datum":0}}},
  {"data":{"values":[{}]},"mark":{"type":"text","text":"45 µg","dy":33,"fontSize":8.5,"color":"#333"},"encoding":{"x":{"datum":"45 µg 2","bandPosition":0},"y":{"datum":0}}}
 ]}
 ]}
]
}
